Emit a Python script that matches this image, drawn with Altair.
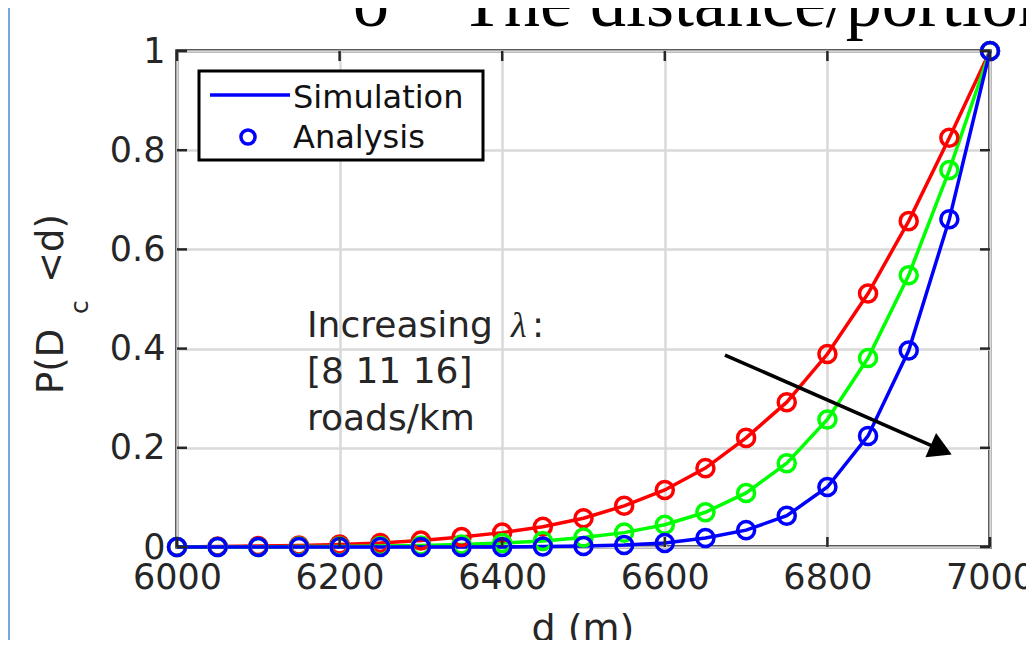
import altair as alt
import pandas as pd

# ---------------- data ----------------
d_values = [6000, 6050, 6100, 6150, 6200, 6250, 6300, 6350, 6400, 6450, 6500,
            6550, 6600, 6650, 6700, 6750, 6800, 6850, 6900, 6950, 7000]
p_lambda8 = [0, 0.001, 0.002, 0.003, 0.005, 0.008, 0.013, 0.02, 0.029, 0.041, 0.058,
             0.083, 0.115, 0.159, 0.22, 0.292, 0.389, 0.511, 0.657, 0.825, 1.0]
p_lambda11 = [0, 0, 0, 0.001, 0.001, 0.002, 0.003, 0.005, 0.008, 0.012, 0.019,
              0.029, 0.045, 0.07, 0.109, 0.169, 0.257, 0.381, 0.548, 0.76, 1.0]
p_lambda16 = [0, 0, 0, 0, 0, 0, 0, 0, 0, 0.001, 0.002,
              0.004, 0.008, 0.018, 0.034, 0.063, 0.121, 0.224, 0.396, 0.661, 1.0]
series_names = ["8", "11", "16"]
series_colors = ["#ff0000", "#00ff00", "#0000ff"]
x_ticks = [6000, 6200, 6400, 6600, 6800, 7000]
y_ticks = [0, 0.2, 0.4, 0.6, 0.8, 1]
arrow_start = (6674, 0.387)
arrow_end = (6940, 0.196)

rows = []
for i, (name, vals) in enumerate(zip(series_names, [p_lambda8, p_lambda11, p_lambda16])):
    for d, p in zip(d_values, vals):
        rows.append({"d": d, "p": p, "lam": name, "k": i})
df = pd.DataFrame(rows)

W, H = 813, 496
TXT = "#262626"
FONT = "DejaVu Sans"

xs = alt.Scale(domain=[6000, 7000], nice=False, zero=False)
ys = alt.Scale(domain=[0, 1], nice=False, zero=False)
cs = alt.Scale(domain=series_names, range=series_colors)

x_axis = alt.Axis(values=x_ticks, format="d", grid=True, gridColor="#d9d9d9", gridWidth=2.5,
                  ticks=False, domain=False, labelFontSize=35, labelFont=FONT, labelColor=TXT,
                  labelPadding=13, title=None, labelFlush=False, labelBound=False)
y_axis = alt.Axis(values=y_ticks, format=".1~f", grid=True, gridColor="#d9d9d9", gridWidth=2.5,
                  ticks=False, domain=False, labelFontSize=35, labelFont=FONT, labelColor=TXT,
                  labelPadding=12, title=None, labelFlush=False, labelBound=False)

def X(field):
    return alt.X(field, scale=xs, axis=x_axis)

def Y(field):
    return alt.Y(field, scale=ys, axis=y_axis)

one = alt.Data(values=[{}])

lines = alt.Chart(df).mark_line(strokeWidth=3.5).encode(
    x=X("d:Q"), y=Y("p:Q"),
    color=alt.Color("lam:N", scale=cs, legend=None),
    order="d:Q",
)
points = alt.Chart(df).mark_point(shape="circle", filled=False, strokeWidth=3.5, size=290, opacity=1).encode(
    x=X("d:Q"), y=Y("p:Q"),
    color=alt.Color("lam:N", scale=cs, legend=None),
)

xt = pd.DataFrame({"t": x_ticks})
yt = pd.DataFrame({"t": y_ticks})
tick_style = dict(color=TXT, strokeWidth=2.5)
xt_bot = alt.Chart(xt).mark_rule(**tick_style).encode(
    x=X("t:Q"), y=alt.value(H), y2=alt.value(H - 10))
xt_top = alt.Chart(xt).mark_rule(**tick_style).encode(
    x=X("t:Q"), y=alt.value(0), y2=alt.value(10))
yt_left = alt.Chart(yt).mark_rule(**tick_style).encode(
    y=Y("t:Q"), x=alt.value(0), x2=alt.value(10))
yt_right = alt.Chart(yt).mark_rule(**tick_style).encode(
    y=Y("t:Q"), x=alt.value(W), x2=alt.value(W - 10))

# arrow
arr = pd.DataFrame([{"x": arrow_start[0], "y": arrow_start[1], "x2": arrow_end[0], "y2": arrow_end[1]}])
arrow_line = alt.Chart(arr).mark_rule(color="black", strokeWidth=3.5).encode(
    x=X("x:Q"), y=Y("y:Q"), x2="x2:Q", y2="y2:Q")
arrow_head = alt.Chart(arr).mark_point(shape="triangle-right", filled=True, color="black",
                                       size=700, angle=23.7, opacity=1).encode(
    x=X("x2:Q"), y=Y("y2:Q"))

def txt(text, x, y, size, font=FONT, align="left", color=TXT, angle=0, style="normal"):
    return alt.Chart(one).mark_text(text=text, font=font, fontSize=size, align=align,
                                    baseline="alphabetic", color=color, angle=angle,
                                    fontStyle=style).encode(x=alt.value(x), y=alt.value(y))

# annotation
ann = [
    txt("Increasing", 130, 286, 36),
    txt("\u03bb", 334, 286, 36, font="Liberation Serif", style="italic"),
    txt(":", 355, 286, 36),
    txt("[8 11 16]", 130, 332, 36),
    txt("roads/km", 130, 379, 36),
]

# legend
leg_box = alt.Chart(one).mark_rect(fill="white", stroke="black", strokeWidth=3).encode(
    x=alt.value(22), x2=alt.value(306), y=alt.value(20), y2=alt.value(109))
leg_line = alt.Chart(one).mark_rule(color="#0000ff", strokeWidth=3.5).encode(
    x=alt.value(33), x2=alt.value(113), y=alt.value(44))
leg_pt = alt.Chart(one).mark_point(shape="circle", filled=False, strokeWidth=3.5, size=200,
                                   color="#0000ff", opacity=1).encode(x=alt.value(71), y=alt.value(86))
leg_txt = [txt("Simulation", 116, 57, 32, color="#111111"), txt("Analysis", 116, 97, 32, color="#111111")]

# axis titles
xlab = txt("d (m)", 406, 590, 38, align="center")
ylab = [
    txt("P(D", -114, 343, 37, angle=270),
    txt("c", -89, 263, 25, angle=270),
    txt("<d)", -114, 232, 37, angle=270),
]

# slide remnants: cut-off title and left border
slide_title = [
    txt("o", 176, -25, 72, font="Liberation Serif", color="black"),
    txt("The distance/portion", 283, -25, 72, font="Liberation Serif", color="black"),
]
border = alt.Chart(one).mark_rule(color="#7aa6dc", strokeWidth=2).encode(
    x=alt.value(-168), y=alt.value(-43), y2=alt.value(H + 93))

chart = alt.layer(
    lines, points, xt_bot, xt_top, yt_left, yt_right, arrow_line, arrow_head,
    *ann, leg_box, leg_line, leg_pt, *leg_txt, xlab, *ylab, *slide_title, border,
).properties(
    width=W, height=H,
    autosize=alt.AutoSizeParams(type="none"),
    padding={"left": 169, "top": 43, "right": 36, "bottom": 93},
    background="white",
).configure_view(stroke=TXT, strokeWidth=3.5)

chart.save("out.html", embed_options={"renderer": "svg", "actions": False})
